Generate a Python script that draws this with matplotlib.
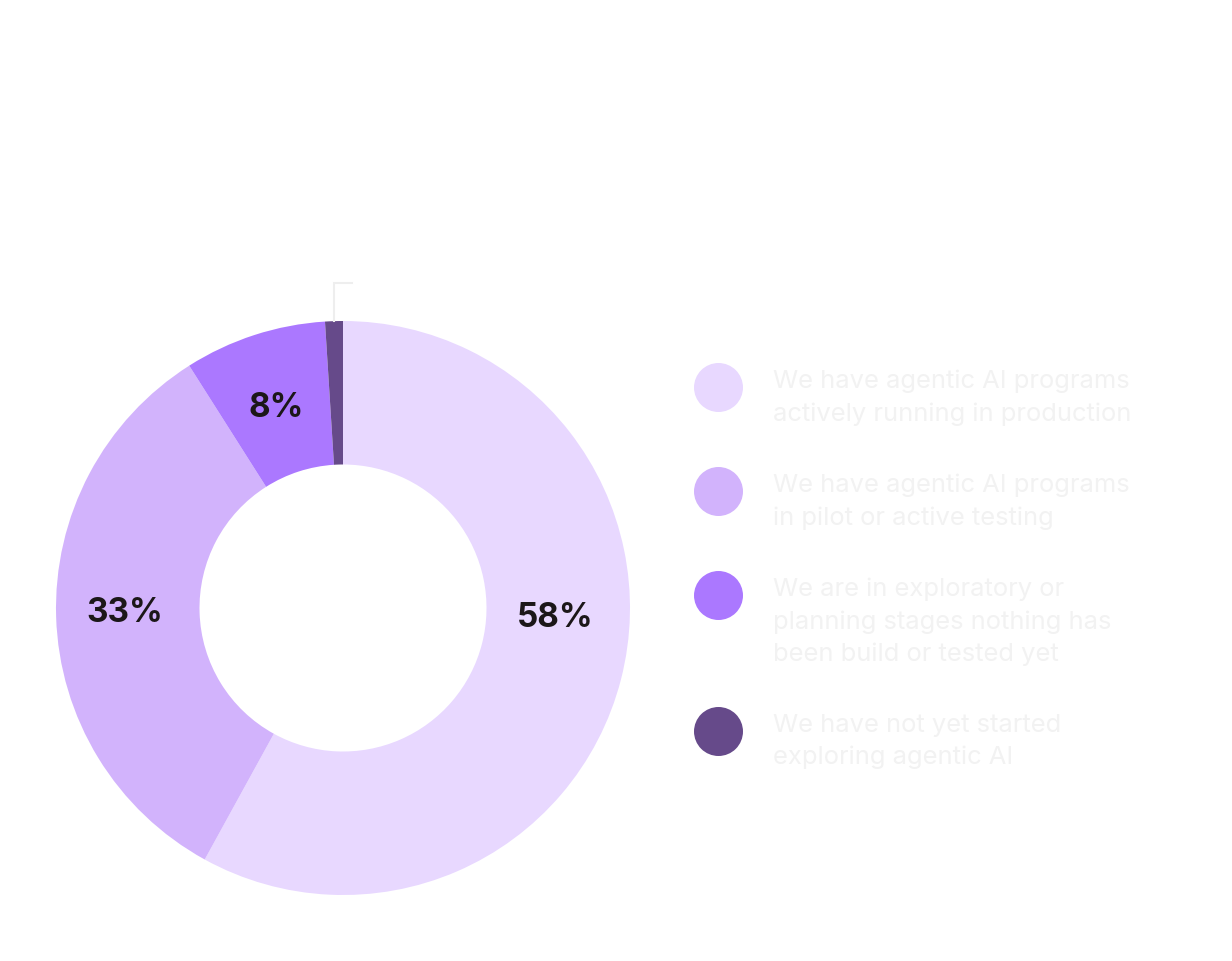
import matplotlib
matplotlib.use("Agg")
import matplotlib.pyplot as plt
import numpy as np

# ---- data ----
categories = [
    "We have agentic AI programs\nactively running in production",
    "We have agentic AI programs\nin pilot or active testing",
    "We are in exploratory or\nplanning stages nothing has\nbeen build or tested yet",
    "We have not yet started\nexploring agentic AI",
]
values = [58, 33, 8, 1]
value_labels = ["58%", "33%", "8%", "1%"]
colors = ["#E8D8FF", "#D2B3FC", "#AB78FF", "#664A8A"]

W, H = 1232, 962
fig = plt.figure(figsize=(W / 100, H / 100), dpi=100)
fig.patch.set_facecolor("white")

# pie axes: center (343, 609) px, radius 287 px
cx, cy, R = 343, 609, 287
ax = fig.add_axes([(cx - R) / W, (H - cy - R) / H, 2 * R / W, 2 * R / H])
wedges, _ = ax.pie(values, colors=colors, startangle=90, counterclock=False,
                   radius=1.0, wedgeprops=dict(width=0.5, linewidth=0))
ax.set_xlim(-1, 1)
ax.set_ylim(-1, 1)
ax.set_aspect("equal")
ax.axis("off")

# label positions (pie coordinates)
label_pos = [(0.739, -0.030), (-0.760, -0.014), (-0.233, 0.700)]
for (lx, ly), lab in zip(label_pos, value_labels[:3]):
    ax.text(lx, ly, lab, ha="center", va="center", fontsize=24,
            fontweight="bold", family=["Inter", "DejaVu Sans"],
            color="#1c1719")

# leader line for the smallest slice
w = wedges[3]
mid = np.deg2rad((w.theta1 + w.theta2) / 2)
x0 = np.cos(mid)
ax.plot([x0, x0, -x0], [1.0, 1.132, 1.132], color="#eeeeee",
        lw=1.5, clip_on=False, solid_joinstyle="miter")

# legend
lax = fig.add_axes([0, 0, 1, 1])
lax.set_xlim(0, W)
lax.set_ylim(H, 0)
lax.axis("off")
legend_y = [388, 492, 596, 732]
for y, c, t in zip(legend_y, colors, categories):
    lax.scatter([718], [y], s=(49 * 0.72) ** 2, color=c, linewidths=0)
    lax.text(773, y - 18, t, ha="left", va="top", fontsize=18.4,
             family=["Inter", "DejaVu Sans"], color="#f2f2f2",
             linespacing=1.48)

fig.savefig("out.png", dpi=100)
